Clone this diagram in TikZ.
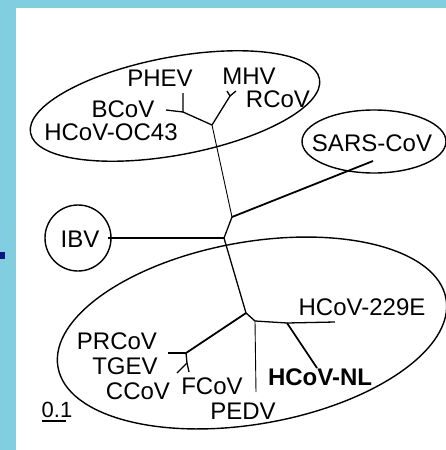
\documentclass[tikz,border=0pt]{standalone}
\usepackage{fontspec}
\setmainfont{Liberation Sans}
\definecolor{bgcyan}{RGB}{128,206,224}
\definecolor{barblue}{RGB}{10,20,130}
\begin{document}
\begin{tikzpicture}[x=1pt,y=-1pt,
  lbl/.style={inner sep=0pt, font=\fontsize{24}{24}\selectfont, text height=17.2pt, text depth=0pt},
  thinbr/.style={line width=0.9pt},
  midbr/.style={line width=1.3pt},
  thickbr/.style={line width=1.8pt},
  group/.style={line width=1.4pt}]
\fill[bgcyan] (0,0) rectangle (446,450);
\fill[white] (16,8) rectangle (446,450);
\fill[barblue] (0,252) rectangle (5,259);
\useasboundingbox (0,0) rectangle (446,450);

% group outlines
\draw[group, rotate around={10.6:(175,106)}] (175,106) ellipse [x radius=147, y radius=49];
\draw[group] (374,141.5) ellipse [x radius=72, y radius=31.5];
\draw[group, rotate around={10:(252,333)}] (252,333) ellipse [x radius=197, y radius=91];
\node[draw, circle, line width=1.4pt, minimum size=66pt, inner sep=0pt] (ibvc) at (78,238) {};

% labels
\node[lbl] (phev) at (160,78) {PHEV};
\node[lbl] (mhv) at (249,76) {MHV};
\node[lbl] (rcov) at (278,99) {RCoV};
\node[lbl] (bcov) at (123,108.5) {BCoV};
\node[lbl] (oc43) at (111,131.5) {HCoV-OC43};
\node[lbl] (sars) at (372,143) {SARS-CoV};
\node[lbl] (ibv) at (80,239) {IBV};
\node[lbl] (e229) at (362,307) {HCoV-229E};
\node[lbl] (prcov) at (117,341) {PRCoV};
\node[lbl] (tgev) at (125,366) {TGEV};
\node[lbl] (ccov) at (138,391) {CCoV};
\node[lbl] (fcov) at (212,386) {FCoV};
\node[lbl, font=\fontsize{24}{24}\selectfont\bfseries] (nl) at (320,377) {HCoV-NL};
\node[lbl] (pedv) at (243,411) {PEDV};
\node[inner sep=0pt, font=\fontsize{22}{22}\selectfont, text height=15.8pt, text depth=0pt] (scale) at (57,410) {0.1};
\coordinate (sbl) at (42,421);
\coordinate (sbr) at (66,421);
\draw[line width=1.2pt] (sbl) -- (sbr);

% tree junctions and tips
\coordinate (A) at (212,125);
\coordinate (H) at (183,112);
\coordinate (phevt) at (183,93);
\coordinate (bcovt) at (166,110);
\coordinate (I) at (230,96);
\coordinate (mhvt) at (227,91);
\coordinate (rcovt) at (236,91);
\coordinate (B) at (232,217);
\coordinate (sarst) at (373,161);
\coordinate (C) at (224,238);
\coordinate (ibvt) at (108,238);
\coordinate (D) at (246,313);
\coordinate (E) at (255,321);
\coordinate (pedvt) at (256,392);
\coordinate (F) at (287,323);
\coordinate (e229t) at (335,322);
\coordinate (nlt) at (317,368);
\coordinate (G) at (186,353);
\coordinate (prt) at (168,353);
\coordinate (G2) at (187,363);
\coordinate (fct) at (189,372);
\coordinate (cct) at (177,373);

% branches
\draw[midbr] (A) -- (H) -- (phevt);
\draw[midbr] (H) -- (bcovt);
\draw[midbr] (A) -- (I) -- (mhvt);
\draw[midbr] (I) -- (rcovt);
\draw[thinbr] (A) -- (B);
\draw[thickbr] (B) -- (sarst);
\draw[midbr] (B) -- (C);
\draw[thickbr] (C) -- (ibvt);
\draw[midbr] (C) -- (D);
\draw[midbr] (D) -- (E);
\draw[thinbr] (E) -- (pedvt);
\draw[midbr] (E) -- (F) -- (e229t);
\draw[thickbr] (F) -- (nlt);
\draw[thickbr] (D) -- (G);
\draw[midbr] (G) -- (prt);
\draw[midbr] (G) -- (G2) -- (fct);
\draw[midbr] (G2) -- (cct);
\end{tikzpicture}
\end{document}
